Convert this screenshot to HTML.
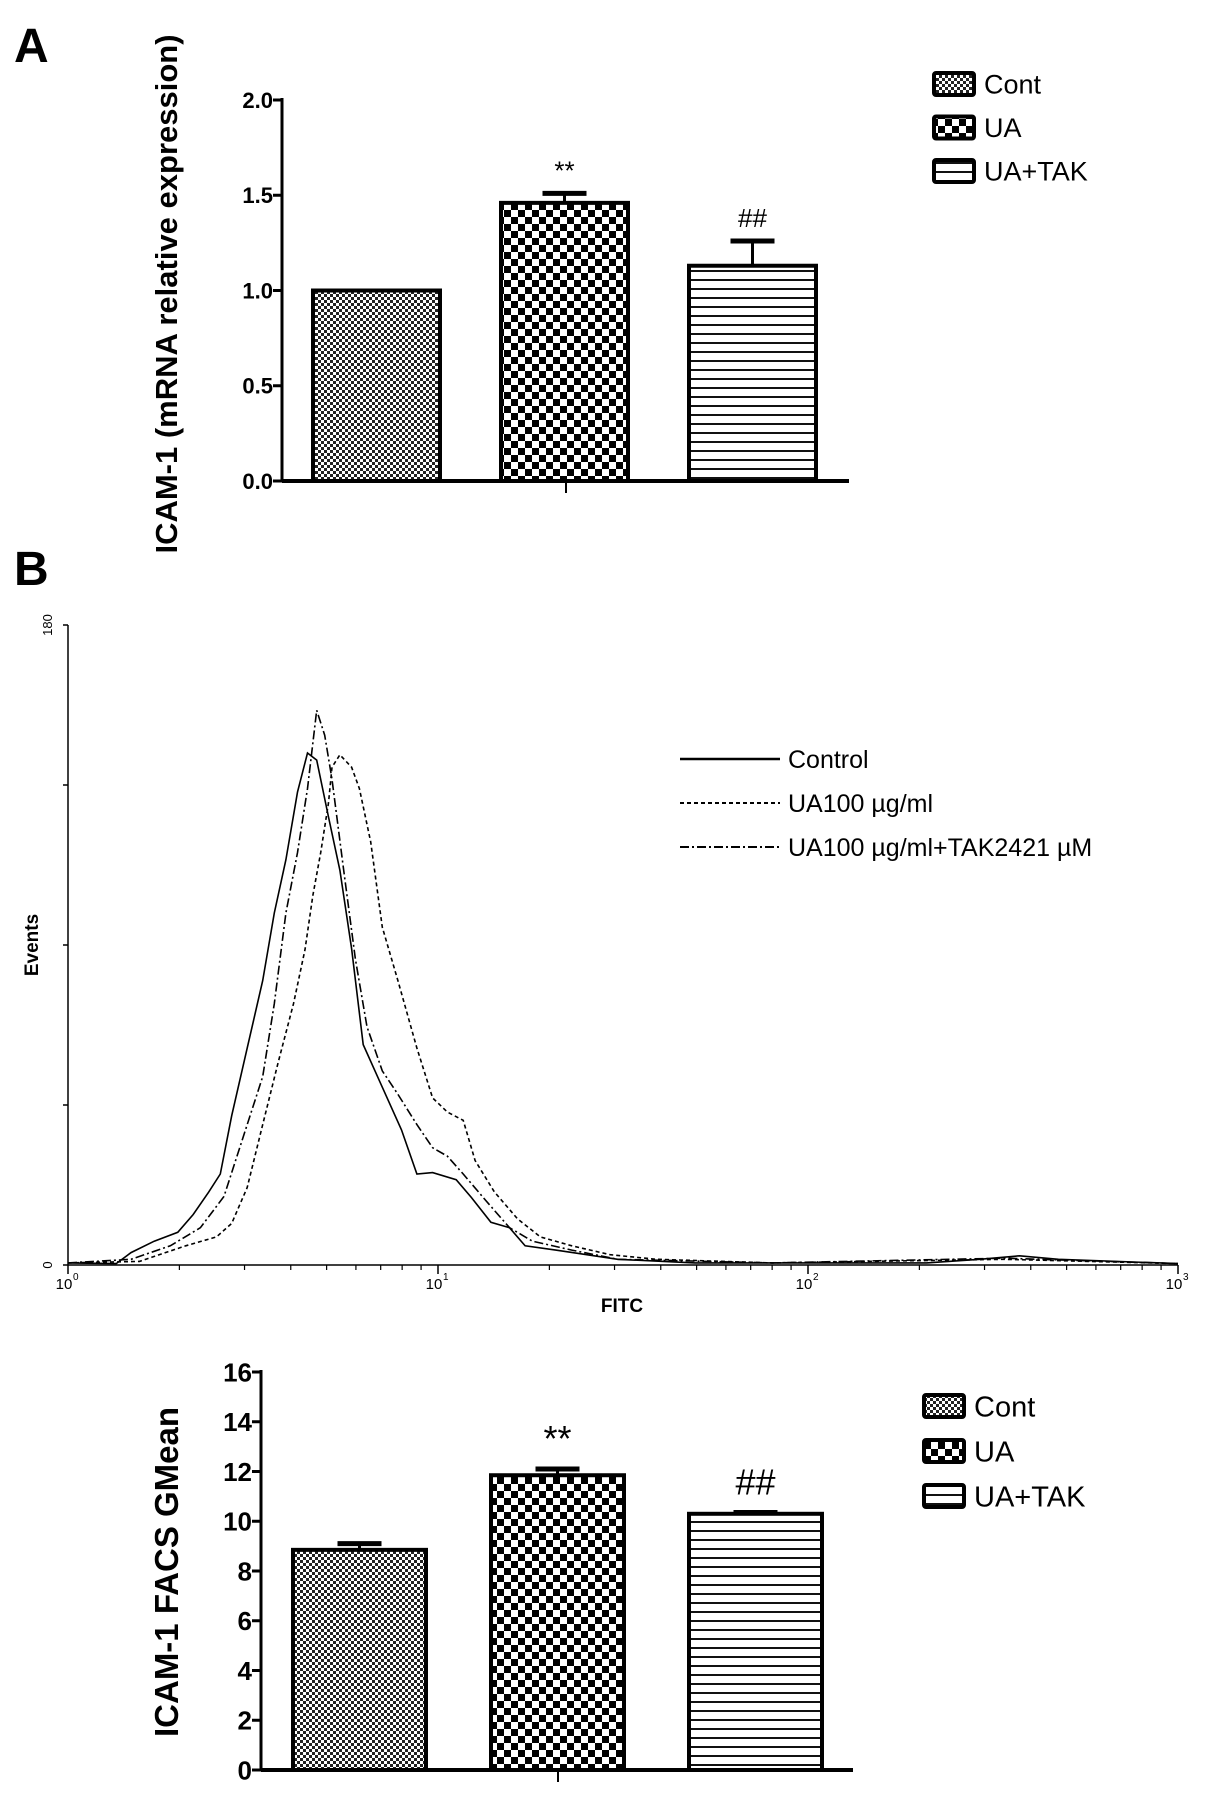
<!DOCTYPE html>
<html><head><meta charset="utf-8"><style>
body{margin:0;background:#fff}
svg{display:block;font-family:"Liberation Sans",sans-serif}
</style></head><body>
<svg id="fig" width="1205" height="1793" viewBox="0 0 1205 1793">
<defs>
<pattern id="pCont" width="6" height="6" patternUnits="userSpaceOnUse"><rect width="6" height="6" fill="#fff"/><rect width="3" height="3" fill="#222"/><rect x="3" y="3" width="3" height="3" fill="#222"/></pattern>
<pattern id="pUA" width="14" height="14" patternUnits="userSpaceOnUse"><rect width="14" height="14" fill="#fff"/><rect width="7" height="7" fill="#000"/><rect x="7" y="7" width="7" height="7" fill="#000"/></pattern>
<pattern id="pTAK" width="10" height="9" patternUnits="userSpaceOnUse"><rect width="10" height="9" fill="#fff"/><rect y="0" width="10" height="2" fill="#111"/></pattern>
</defs>
<text x="14" y="62" font-size="48" font-weight="bold">A</text>
<text x="14" y="585" font-size="48" font-weight="bold">B</text>
<g id="chartA"></g>
<g id="hist"></g>
<g id="chartC"></g>
</svg>
<script>
const NS="http://www.w3.org/2000/svg";
function mk(p,tag,at,txt){const e=document.createElementNS(NS,tag);for(const k in at)e.setAttribute(k,at[k]);if(txt!==undefined)e.textContent=txt;p.appendChild(e);return e;}

// Panel A data
const aCats=["Cont","UA","UA+TAK"];
const aVals=[1.0,1.46,1.13];
const aErr=[0.0,0.05,0.13];
const aTicks=["0.0","0.5","1.0","1.5","2.0"];
const aMarks=["","**","##"];
// Panel C data
const cCats=["Cont","UA","UA+TAK"];
const cVals=[8.85,11.85,10.3];
const cErr=[0.25,0.25,0.05];
const cTicks=["0","2","4","6","8","10","12","14","16"];
const cMarks=["","**","##"];
// Histogram data (FITC value, events)
const ctrlX=[1.0,1.35,1.48,1.71,1.98,2.18,2.40,2.58,2.77,3.05,3.36,3.61,3.88,4.17,4.44,4.70,5.06,5.43,5.84,6.28,7.07,7.97,8.77,9.67,11.2,12.3,13.9,15.6,17.2,20.8,30.6,49.5,80,209,291,373,475,1000];
const ctrlY=[0.6,0.4,3.5,6.7,9.2,14.2,20.5,25.6,42,61,80,99,114,133,144,142,126,111,89,62,50,38,25.6,26,24,19,12,10.5,5.4,4.2,1.6,0.6,0.6,0.6,1.6,2.6,1.6,0.4];
const uaX=[1.0,1.56,2.08,2.52,2.77,3.05,3.36,3.70,4.07,4.37,4.59,4.82,5.06,5.17,5.43,5.84,6.13,6.58,7.07,7.79,8.77,9.67,10.6,11.7,12.6,14.2,16.4,18.9,23.0,29.2,38.9,80,339,1000];
const uaY=[0.6,1.0,5.4,7.9,11.7,21.8,39.5,57,73.5,88.7,104,116,130,140,143.5,140,134,119,95,80,61,47,43,40.7,29.4,20.6,13,7.9,5.4,2.9,1.6,0.6,1.6,0.4];
const takX=[1.0,1.48,1.89,2.28,2.64,3.05,3.36,3.61,3.88,4.17,4.44,4.70,4.94,5.17,5.56,5.98,6.43,7.07,7.79,8.77,9.67,10.6,11.7,13.5,15.6,18.0,23.0,30.6,80,339,1000];
const takY=[0.6,1.6,5.4,10.5,19.3,39.5,53,73.5,99,116,134,156,149,136.6,111,86,67,54.6,48,39.5,33,30.6,25.6,18,10.5,6.7,4.2,1.6,0.6,1.9,0.4];
const histYTicks=[0,45,90,135,180];
const histXTicks=[0,1,2,3];

const pats=["url(#pCont)","url(#pUA)","url(#pTAK)"];

function barChart(g,o){
  const y=v=>o.y0-(v/o.max)*(o.y0-o.y1);
  mk(g,"line",{x1:o.ax,y1:o.y1-2,x2:o.ax,y2:o.y0,stroke:"#000","stroke-width":3});
  o.ticks.forEach((t,i)=>{const v=i*o.max/(o.ticks.length-1);const yy=y(v);
    const tk=mk(g,"line",{x1:o.ax-9,y1:yy,x2:o.ax,y2:yy,stroke:"#000","stroke-width":3});
    
    const tl=mk(g,"text",{x:o.ax-9,y:yy+o.tf*0.36,"text-anchor":"end","font-size":o.tf,"font-weight":"bold"},t);
    });
  o.vals.forEach((v,i)=>{const x=o.bx+i*o.step;const top=y(v);
    const b=mk(g,"rect",{x:x,y:top,width:o.bw,height:o.y0-top,fill:pats[i],stroke:"#000","stroke-width":4});
    
    if(o.err[i]>0){const ey=y(v+o.err[i]);const cx=x+o.bw/2;
      const e1=mk(g,"line",{x1:cx,y1:top,x2:cx,y2:ey,stroke:"#000","stroke-width":3});
      
      const e2=mk(g,"line",{x1:cx-22,y1:ey,x2:cx+22,y2:ey,stroke:"#000","stroke-width":5});
      }
    if(o.marks[i]){const m=mk(g,"text",{x:x+o.bw/2,y:y(v+o.err[i])-o.mo,"text-anchor":"middle","font-size":o.mf},o.marks[i]);
      }
  });
  mk(g,"line",{x1:o.ax,y1:o.y0,x2:o.xe,y2:o.y0,stroke:"#000","stroke-width":4});
  mk(g,"line",{x1:o.ct,y1:o.y0,x2:o.ct,y2:o.y0+12,stroke:"#000","stroke-width":2});
  const t=mk(g,"text",{transform:`translate(${o.tx},${o.ty}) rotate(-90)`,"text-anchor":"middle","font-size":o.tfs,"font-weight":"bold"},o.title);
  
  o.cats.forEach((c,i)=>{const ly=o.ly+i*o.lstep;
    const lb=mk(g,"rect",{x:o.lx,y:ly-11,width:40,height:22,rx:2,fill:pats[i],stroke:"#000","stroke-width":4});
    
    const lt=mk(g,"text",{x:o.lx+50,y:ly+o.lf*0.36,"font-size":o.lf},c);
    });
}
barChart(document.getElementById("chartA"),{ax:282,y0:481,y1:100,max:2,ticks:aTicks,tf:22,vals:aVals,err:aErr,cats:aCats,marks:aMarks,
  bx:313,bw:127,step:188,mo:14,mf:26,xe:849,ct:566,tx:177,ty:294,tfs:31,title:"ICAM-1 (mRNA relative expression)",lx:934,ly:84,lstep:43.5,lf:27});
barChart(document.getElementById("chartC"),{ax:261,y0:1770,y1:1372,max:16,ticks:cTicks,tf:26,vals:cVals,err:cErr,cats:cCats,marks:cMarks,
  bx:293,bw:133,step:198,mo:18,mf:36,xe:853,ct:558,tx:178,ty:1572,tfs:33,title:"ICAM-1 FACS GMean",lx:924,ly:1406,lstep:45,lf:29});

// Histogram
(function(){
  const g=document.getElementById("hist");
  const X0=68,X1=1178,Y0=1265,Y1=625,ymax=180;
  const sx=f=>X0+Math.log10(f)/3*(X1-X0);
  const sy=v=>Y0-v/ymax*(Y0-Y1);
  mk(g,"line",{x1:X0,y1:Y1,x2:X0,y2:Y0,stroke:"#000","stroke-width":1.5});
  mk(g,"line",{x1:X0,y1:Y0,x2:X1,y2:Y0,stroke:"#000","stroke-width":1.5});
  histYTicks.forEach(v=>{const t=mk(g,"line",{x1:X0-5,y1:sy(v),x2:X0,y2:sy(v),stroke:"#000","stroke-width":1.5});
    });
  [[0,"0"],[180,"180"]].forEach(([v,s])=>{const t=mk(g,"text",{transform:`translate(52,${sy(v)}) rotate(-90)`,"text-anchor":"middle","font-size":13},s);
    });
  histXTicks.forEach(d=>{const x=sx(Math.pow(10,d));
    mk(g,"line",{x1:x,y1:Y0,x2:x,y2:Y0+9,stroke:"#000","stroke-width":1.5});
    if(d<3)for(let k=2;k<10;k++){const xx=sx(k*Math.pow(10,d));mk(g,"line",{x1:xx,y1:Y0,x2:xx,y2:Y0+5,stroke:"#000","stroke-width":1.2});}
    const t=mk(g,"text",{x:x-4,y:Y0+24,"text-anchor":"middle","font-size":15},"10");
    
    mk(g,"text",{x:x+5,y:Y0+15,"font-size":10},String(d));});
  const fx=mk(g,"text",{x:622,y:1312,"text-anchor":"middle","font-size":19,"font-weight":"bold"},"FITC");
  
  const ev=mk(g,"text",{transform:"translate(38,945) rotate(-90)","text-anchor":"middle","font-size":19,"font-weight":"bold"},"Events");
  
  const series=[[ctrlX,ctrlY,"none","control"],[uaX,uaY,"4,3","ua100"],[takX,takY,"9,3,2,3","ua100-tak242"]];
  series.forEach(([xs,ys,da,nm])=>{const d=xs.map((f,i)=>(i?"L":"M")+sx(f).toFixed(1)+","+sy(ys[i]).toFixed(1)).join(" ");
    const p=mk(g,"path",{d:d,fill:"none",stroke:"#000","stroke-width":1.6,"stroke-dasharray":da});
    });
  const labels=["Control","UA100 µg/ml","UA100 µg/ml+TAK2421 µM"];
  const das=["none","4,3","9,3,2,3"];
  labels.forEach((l,i)=>{const y=759+i*44;
    mk(g,"line",{x1:680,y1:y,x2:780,y2:y,stroke:"#000","stroke-width":i?2:2.5,"stroke-dasharray":das[i]});
    const t=mk(g,"text",{x:788,y:y+9,"font-size":25},l);
    });
})();
</script>
</body></html>
